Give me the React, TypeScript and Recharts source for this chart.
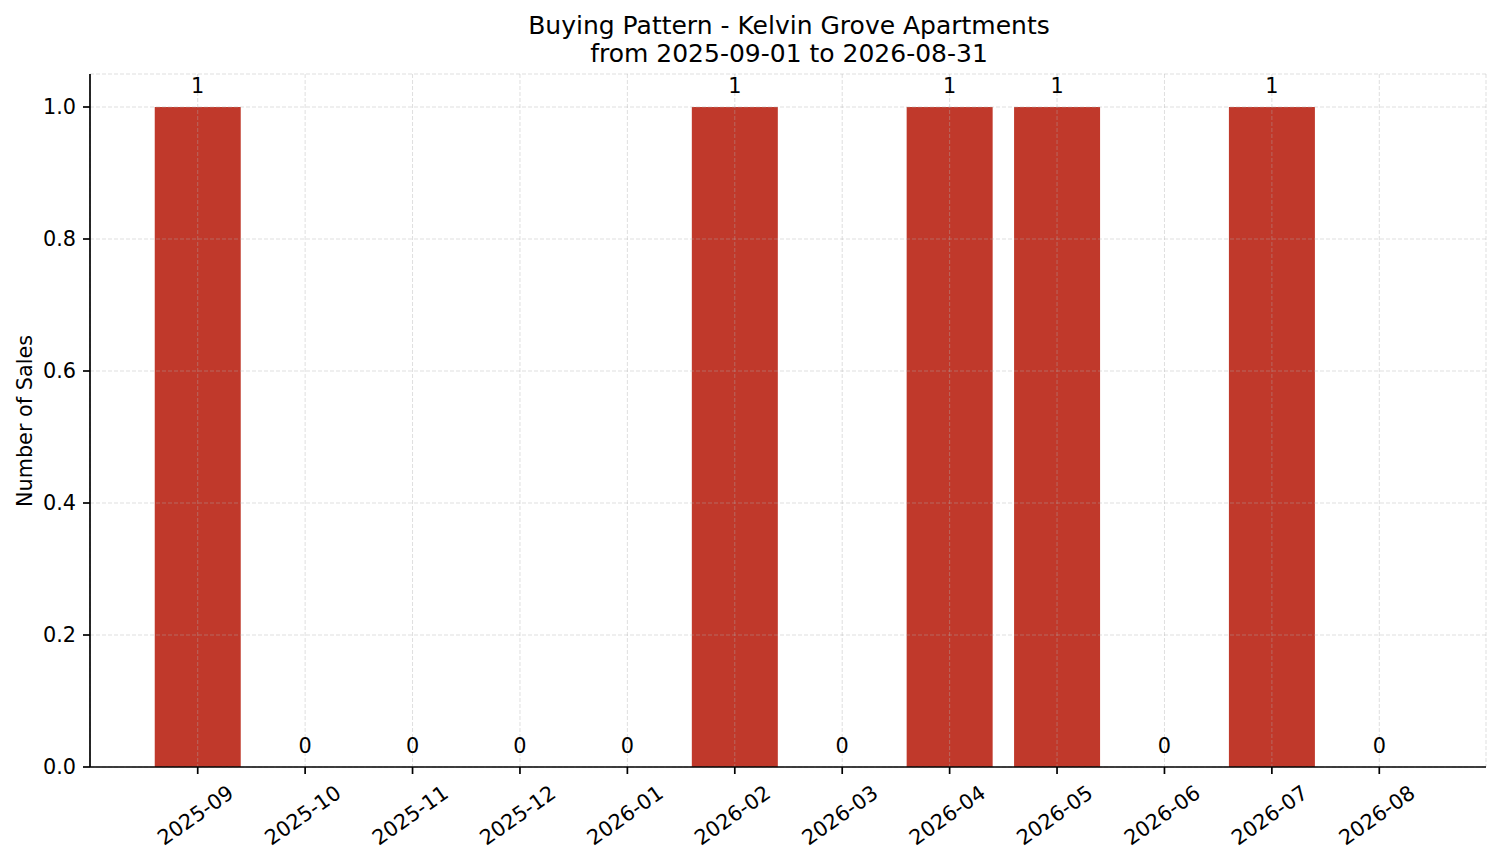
import React from "react";
import {
  ComposedChart,
  Bar,
  Line,
  XAxis,
  YAxis,
  CartesianGrid,
  LabelList,
} from "recharts";

const months = [
  "2025-09",
  "2025-10",
  "2025-11",
  "2025-12",
  "2026-01",
  "2026-02",
  "2026-03",
  "2026-04",
  "2026-05",
  "2026-06",
  "2026-07",
  "2026-08",
];
const sales = [1, 0, 0, 0, 0, 1, 0, 1, 1, 0, 1, 0];
const yTicks = [0, 0.2, 0.4, 0.6, 0.8, 1.0];
const titleLines = [
  "Buying Pattern - Kelvin Grove Apartments",
  "from 2025-09-01 to 2026-08-31",
];
const yLabel = "Number of Sales";

const data = months.map((m, i) => ({ month: m, count: sales[i] }));

const FONT = "'DejaVu Sans', sans-serif";
const TICK_FS = 20.8;

const XTick = (props: any) => {
  const { x, y, payload } = props;
  return (
    <g transform={`translate(${x - 2.5},${y + 41}) rotate(-35)`}>
      <text
        x={0}
        y={0}
        dy="0.36em"
        textAnchor="middle"
        fontFamily={FONT}
        fontSize={TICK_FS}
        fill="#000"
      >
        {payload.value}
      </text>
    </g>
  );
};

export default function App() {
  return (
    <div style={{ position: "relative", width: 1501, height: 863, background: "#fff" }}>
      <style>{`body{margin:0;}`}</style>
      <ComposedChart
        width={1501}
        height={863}
        data={data}
        margin={{ top: 74, right: 15, bottom: 0, left: 0 }}
        barCategoryGap="10%"
      >
        <XAxis
          dataKey="month"
          height={96}
          padding={{ left: 54, right: 53 }}
          tick={<XTick />}
          tickSize={7}
          tickMargin={0}
          interval={0}
          axisLine={{ stroke: "#000", strokeWidth: 1.7 }}
          tickLine={{ stroke: "#000", strokeWidth: 1.7 }}
        />
        <YAxis
          width={90}
          domain={[0, 1.05]}
          ticks={yTicks}
          tickFormatter={(v: number) => v.toFixed(1)}
          tickSize={7}
          tickMargin={7}
          allowDataOverflow
          axisLine={{ stroke: "#000", strokeWidth: 1.7 }}
          tickLine={{ stroke: "#000", strokeWidth: 1.7 }}
          tick={{ fill: "#000", fontSize: TICK_FS, fontFamily: FONT }}
        />
        <Bar dataKey="count" fill="#c0392b" isAnimationActive={false} />
        <CartesianGrid
          stroke="#b0b0b0"
          strokeOpacity={0.5}
          strokeWidth={0.8}
          strokeDasharray="4 2"
          zIndex={400}
        />
        <Line
          dataKey="count"
          stroke="none"
          dot={false}
          activeDot={false}
          legendType="none"
          isAnimationActive={false}
        >
          <LabelList
            dataKey="count"
            position="top"
            offset={14}
            fill="#000"
            fontSize={TICK_FS}
            fontFamily={FONT}
          />
        </Line>
      </ComposedChart>
      <svg
        width={1501}
        height={863}
        style={{ position: "absolute", left: 0, top: 0, pointerEvents: "none" }}
      >
        <text x={789} y={34} textAnchor="middle" fontFamily={FONT} fontSize={25} fill="#000">
          {titleLines[0]}
        </text>
        <text x={789} y={62} textAnchor="middle" fontFamily={FONT} fontSize={25} fill="#000">
          {titleLines[1]}
        </text>
        <text
          transform="translate(32,421) rotate(-90)"
          textAnchor="middle"
          fontFamily={FONT}
          fontSize={TICK_FS}
          fill="#000"
        >
          {yLabel}
        </text>
      </svg>
    </div>
  );
}
